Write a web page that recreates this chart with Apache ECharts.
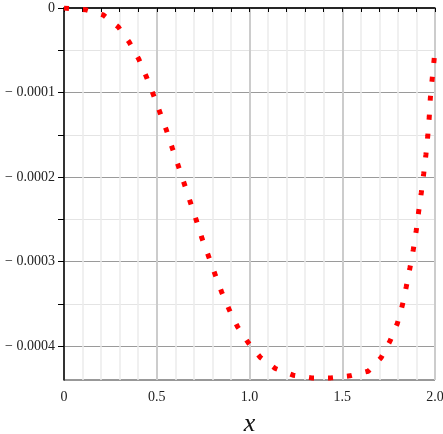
<!DOCTYPE html>
<html>
<head>
<meta charset="utf-8">
<style>
    html, body { margin: 0; padding: 0; background: #fff; }
    #main { width: 443px; height: 434px; }
</style>
<script src="https://cdn.jsdelivr.net/npm/echarts@6/dist/echarts.min.js"></script>
</head>
<body>
<div id="main"></div>
<script>
    // curve, y in units of 1e-4
    var xValues = [0, 0.115, 0.212, 0.293, 0.352, 0.403, 0.444, 0.481, 0.516, 0.550,
        0.584, 0.616, 0.649, 0.681, 0.713, 0.744, 0.779, 0.814, 0.850, 0.891,
        0.936, 0.994, 1.057, 1.139, 1.235, 1.335, 1.438, 1.540, 1.640, 1.709,
        1.757, 1.797, 1.824, 1.845, 1.865, 1.883, 1.899, 1.912, 1.926, 1.939,
        1.951, 1.961, 1.969, 1.975, 1.985, 1.995, 2.0];
    var yValuesE4 = [0, -0.020, -0.083, -0.225, -0.406, -0.604, -0.813, -1.021, -1.228, -1.432,
        -1.657, -1.866, -2.083, -2.296, -2.509, -2.725, -2.935, -3.148, -3.361, -3.570,
        -3.772, -3.961, -4.130, -4.264, -4.343, -4.375, -4.375, -4.351, -4.296, -4.138,
        -3.941, -3.731, -3.515, -3.298, -3.073, -2.858, -2.631, -2.406, -2.186, -1.961,
        -1.736, -1.515, -1.290, -1.062, -0.837, -0.615, -0.50];

    var yLabelValues = [0, -0.0001, -0.0002, -0.0003, -0.0004];
    var yTickValues = [0, -0.00005, -0.0001, -0.00015, -0.0002, -0.00025, -0.0003, -0.00035, -0.0004];

    var points = xValues.map(function (x, i) {
        return [x, yValuesE4[i] * 1e-4];
    });

    var serif = 'Liberation Serif';
    var myChart = echarts.init(document.getElementById('main'));
    var option = {
        animation: false,
        backgroundColor: '#fff',
        grid: {
            left: 64,
            right: 8,
            top: 8,
            bottom: 54,
            outerBoundsMode: 'none',
            show: true,
            borderColor: '#333',
            borderWidth: 1
        },
        xAxis: {
            type: 'value',
            min: 0,
            max: 2,
            interval: 0.5,
            name: 'x',
            nameLocation: 'middle',
            nameGap: 31,
            nameTextStyle: {
                fontFamily: serif,
                fontStyle: 'italic',
                fontSize: 26,
                color: '#111'
            },
            axisLine: { show: true, lineStyle: { color: '#000', width: 1.5 } },
            axisTick: { show: true, length: 4, lineStyle: { color: '#000' } },
            minorTick: { show: true, splitNumber: 5, length: 4, lineStyle: { color: '#000' } },
            axisLabel: {
                fontFamily: serif,
                fontSize: 14,
                color: '#222',
                margin: 10,
                formatter: function (v) { return v === 0 ? '0' : v.toFixed(1); }
            },
            splitLine: { show: true, lineStyle: { color: '#cccccc', width: 2 } },
            minorSplitLine: { show: true, lineStyle: { color: '#ececec', width: 1.5 } }
        },
        yAxis: {
            type: 'value',
            min: -0.00044,
            max: 0,
            axisLine: { show: true, lineStyle: { color: '#000', width: 1.5 } },
            axisTick: {
                show: true,
                length: 6,
                customValues: yTickValues,
                lineStyle: { color: '#000' }
            },
            axisLabel: {
                fontFamily: serif,
                fontSize: 14,
                color: '#222',
                margin: 9,
                customValues: yLabelValues,
                formatter: function (v) {
                    if (v === 0) return '0';
                    return '\u2212 ' + Math.abs(v).toFixed(4);
                }
            },
            splitLine: {
                show: true,
                lineStyle: { color: ['#9a9a9a', '#e4e4e4'], width: 1 }
            }
        },
        series: [
            {
                type: 'line',
                data: points,
                showSymbol: false,
                clip: true,
                lineStyle: {
                    color: '#ff0000',
                    width: 5,
                    type: [5, 14],
                    cap: 'butt'
                }
            }
        ]
    };
    myChart.setOption(option);
</script>
</body>
</html>
